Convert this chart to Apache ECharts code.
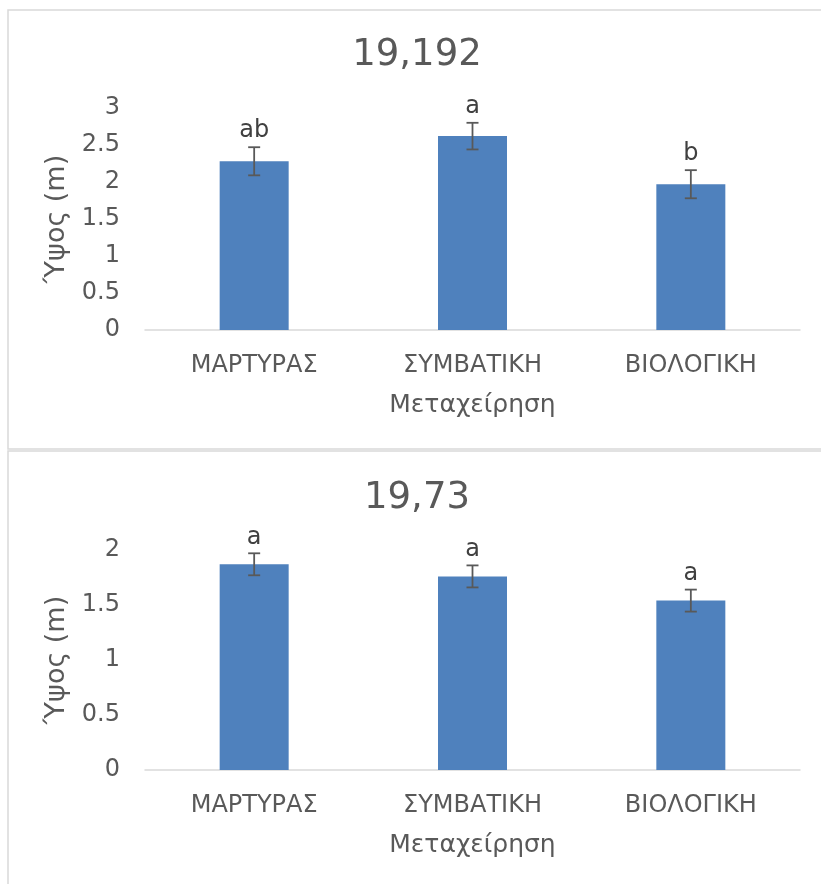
<!DOCTYPE html>
<html>
<head>
<meta charset="utf-8">
<script src="https://cdn.jsdelivr.net/npm/echarts@6/dist/echarts.min.js"></script>
<style>
html,body{margin:0;padding:0;background:#fff;}
#c{width:821px;height:884px;}
</style>
</head>
<body>
<div id="c"></div>
<script>
const categories = ['ΜΑΡΤΥΡΑΣ', 'ΣΥΜΒΑΤΙΚΗ', 'ΒΙΟΛΟΓΙΚΗ'];
const title1 = '19,192';
const heights1 = [2.28, 2.62, 1.97];
const errors1 = [0.19, 0.18, 0.19];
const letters1 = ['ab', 'a', 'b'];
const title2 = '19,73';
const heights2 = [1.87, 1.76, 1.54];
const errors2 = [0.10, 0.10, 0.10];
const letters2 = ['a', 'a', 'a'];
const yMax1 = 3, yMax2 = 2, yStep = 0.5;
const xAxisName = 'Μεταχείρηση';
const yAxisName = 'Ύψος (m)';

const FONT = 'DejaVu Sans';
const TXT = '#595959';

function errRender(letters) {
  return function (params, api) {
    const x = api.value(0), v = api.value(1), e = api.value(2);
    const top = api.coord([x, v + e]);
    const bot = api.coord([x, v - e]);
    const hw = 6;
    const st = { stroke: '#595959', lineWidth: 1.8 };
    return {
      type: 'group',
      children: [
        { type: 'line', shape: { x1: top[0], y1: top[1], x2: bot[0], y2: bot[1] }, style: st },
        { type: 'line', shape: { x1: top[0] - hw, y1: top[1], x2: top[0] + hw, y2: top[1] }, style: st },
        { type: 'line', shape: { x1: bot[0] - hw, y1: bot[1], x2: bot[0] + hw, y2: bot[1] }, style: st },
        { type: 'text', style: { text: letters[params.dataIndex], x: top[0], y: top[1] - 4,
            textAlign: 'center', textVerticalAlign: 'bottom', fontSize: 24, fontFamily: FONT, fill: '#404040' } }
      ]
    };
  };
}

function xAx(gi) {
  return {
    type: 'category', gridIndex: gi, data: categories,
    axisLine: { lineStyle: { color: '#d9d9d9', width: 1.5 } },
    axisTick: { show: false },
    axisLabel: { color: TXT, fontSize: 24, fontFamily: FONT, margin: 24 },
    name: xAxisName, nameLocation: 'middle', nameGap: 63,
    nameTextStyle: { color: TXT, fontSize: 25, fontFamily: FONT }
  };
}
function yAx(gi, max) {
  return {
    type: 'value', gridIndex: gi, min: 0, max: max, interval: yStep,
    axisLine: { show: false }, axisTick: { show: false }, splitLine: { show: false },
    axisLabel: { color: TXT, fontSize: 24, fontFamily: FONT, margin: 25 },
    name: yAxisName, nameLocation: 'middle', nameGap: 68, nameRotate: 90,
    nameTextStyle: { color: TXT, fontSize: 27, fontFamily: FONT }
  };
}

const chart = echarts.init(document.getElementById('c'));
chart.setOption({
  animation: false,
  backgroundColor: '#fff',
  graphic: [
    { type: 'rect', z: -10, shape: { x: 8, y: 10, width: 900, height: 439 }, style: { fill: 'none', stroke: '#d9d9d9', lineWidth: 1.5 } },
    { type: 'rect', z: -10, shape: { x: 8, y: 451, width: 900, height: 500 }, style: { fill: 'none', stroke: '#d9d9d9', lineWidth: 1.5 } }
  ],
  title: [
    { text: title1, left: 412, top: 32, textAlign: 'center', textStyle: { color: TXT, fontSize: 37, fontWeight: 'normal', fontFamily: FONT } },
    { text: title2, left: 412, top: 475, textAlign: 'center', textStyle: { color: TXT, fontSize: 37, fontWeight: 'normal', fontFamily: FONT } }
  ],
  grid: [
    { left: 145, width: 655, top: 108, height: 222 },
    { left: 145, width: 655, top: 550, height: 220 }
  ],
  xAxis: [xAx(0), xAx(1)],
  yAxis: [yAx(0, yMax1), yAx(1, yMax2)],
  series: [
    { type: 'bar', xAxisIndex: 0, yAxisIndex: 0, data: heights1, barWidth: 69, itemStyle: { color: '#4f81bd' } },
    { type: 'custom', xAxisIndex: 0, yAxisIndex: 0, renderItem: errRender(letters1),
      data: heights1.map((h, i) => [i, h, errors1[i]]), z: 5 },
    { type: 'bar', xAxisIndex: 1, yAxisIndex: 1, data: heights2, barWidth: 69, itemStyle: { color: '#4f81bd' } },
    { type: 'custom', xAxisIndex: 1, yAxisIndex: 1, renderItem: errRender(letters2),
      data: heights2.map((h, i) => [i, h, errors2[i]]), z: 5 }
  ]
});
</script>
</body>
</html>
